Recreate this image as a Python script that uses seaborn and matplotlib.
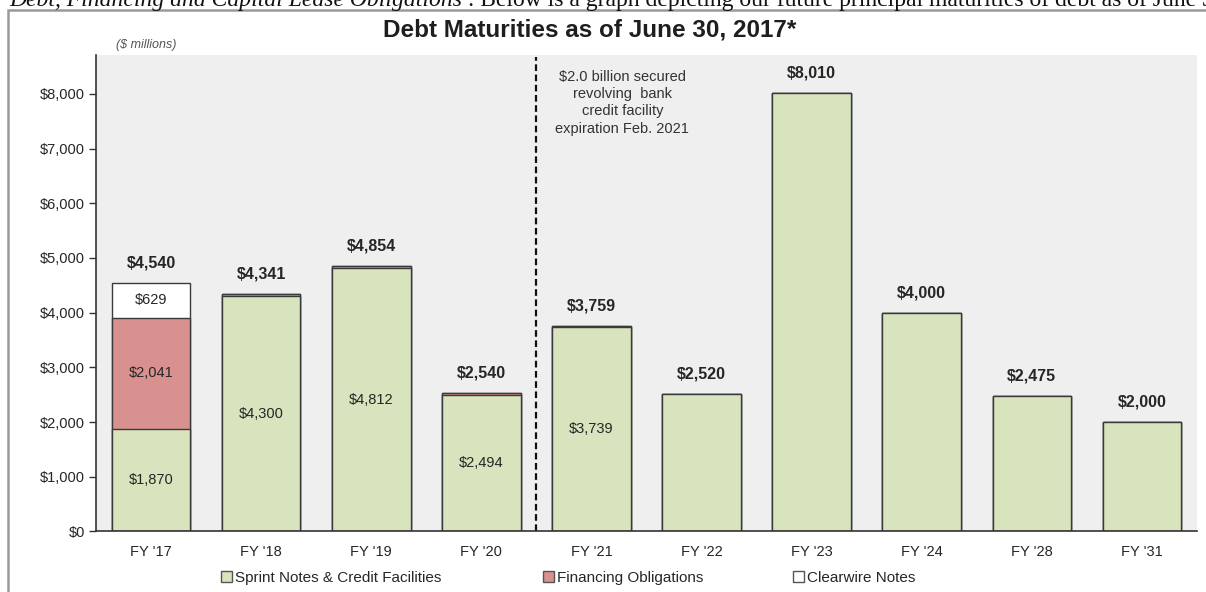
import matplotlib
matplotlib.use("Agg")
import matplotlib.pyplot as plt
import seaborn as sns
import pandas as pd
from matplotlib.patches import Patch, Rectangle

# ---------------- data ----------------
categories = ["FY '17", "FY '18", "FY '19", "FY '20", "FY '21",
              "FY '22", "FY '23", "FY '24", "FY '28", "FY '31"]
sprint_notes = [1870, 4300, 4812, 2494, 3739, 2520, 8010, 4000, 2475, 2000]
financing = [2041, 41, 42, 46, 20, 0, 0, 0, 0, 0]
clearwire = [629, 0, 0, 0, 0, 0, 0, 0, 0, 0]
totals = [4540, 4341, 4854, 2540, 3759, 2520, 8010, 4000, 2475, 2000]
y_ticks = [0, 1000, 2000, 3000, 4000, 5000, 6000, 7000, 8000]
series_names = ["Sprint Notes & Credit Facilities", "Financing Obligations", "Clearwire Notes"]
title = "Debt Maturities as of June 30, 2017*"
unit_note = "($ millions)"
facility_note = "$2.0 billion secured\nrevolving  bank\ncredit facility\nexpiration Feb. 2021"
header_italic = "Debt, Financing and Capital Lease Obligations"
header_rest = " : Below is a graph depicting our future principal maturities of debt as of June 30, 2017:"

# ---------------- style ----------------
sns.set_style("white")
plt.rcParams['font.family'] = ['Liberation Sans', 'DejaVu Sans']

GREEN = "#d7e4bd"
PINK = "#d9918f"
WHITE = "#ffffff"
EDGE = "#3a3a3a"
TEXT = "#262626"
series_colors = [GREEN, PINK, WHITE]

df = pd.DataFrame({"cat": categories, "sprint": sprint_notes,
                   "fin": financing, "cw": clearwire})
df["lvl2"] = df["sprint"] + df["fin"]
df["lvl3"] = df["lvl2"] + df["cw"]

fig = plt.figure(figsize=(12.06, 5.92), dpi=100)
ax = fig.add_axes([0.0796, 0.1022, 0.9129, 0.8049])
ax.set_facecolor("#efefef")

bw = 0.714
for col, c in [("lvl3", WHITE), ("lvl2", PINK), ("sprint", GREEN)]:
    sns.barplot(data=df, x="cat", y=col, color=c, saturation=1, width=bw,
                edgecolor=EDGE, linewidth=1.0, ax=ax, errorbar=None)

ax.set_xlim(-0.5, len(categories) - 0.5)
ax.set_ylim(0, 8710)
ax.set_xlabel("")
ax.set_ylabel("")
ax.set_yticks(y_ticks)
ax.set_yticklabels([f"${v:,}" for v in y_ticks])
for s in ["top", "right"]:
    ax.spines[s].set_visible(False)
for s in ["left", "bottom"]:
    ax.spines[s].set_color("#333333")
    ax.spines[s].set_linewidth(1.2)
ax.tick_params(axis="y", left=True, length=5, width=1, color="#333333",
               pad=3, labelsize=10.5, labelcolor=TEXT, direction="out")
ax.tick_params(axis="x", bottom=False, length=0, pad=10, labelsize=10.5,
               labelcolor=TEXT)

# totals
for i, t in enumerate(totals):
    ax.annotate(f"${t:,}", (i, t), xytext=(0, 14.4), textcoords="offset points",
                ha="center", va="center", fontsize=11.5, fontweight="bold", color=TEXT)

# segment labels
for i in range(len(categories)):
    if financing[i] > 0:
        ax.text(i, sprint_notes[i] / 2, f"${sprint_notes[i]:,}", ha="center", va="center",
                fontsize=10.5, color=TEXT)
    if financing[i] > 100:
        ax.text(i, sprint_notes[i] + financing[i] / 2, f"${financing[i]:,}", ha="center",
                va="center", fontsize=10.5, color=TEXT)
    if clearwire[i] > 0:
        ax.text(i, sprint_notes[i] + financing[i] + clearwire[i] / 2, f"${clearwire[i]:,}",
                ha="center", va="center", fontsize=10.5, color=TEXT)

# dashed divider and note
ax.axvline(3.5, ymin=0, ymax=0.995, color="#111111", lw=1.6, ls=(0, (3, 1.6)))
ax.text(4.28, 8440, facility_note, ha="center", va="top", fontsize=10.5,
        color="#333333", linespacing=1.3)

# title / unit note
fig.text(590 / 1206, 1 - 30 / 592, title, ha="center", va="center",
         fontsize=17.5, fontweight="bold", color="#1e1e1e")
fig.text(146 / 1206, 1 - 45 / 592, unit_note, ha="center", va="center",
         fontsize=9, style="italic", color="#555555")

# legend: one entry per series, each anchored where the reference shows it
legend_x = [221, 543, 793]
for name, c, lx in zip(series_names, series_colors, legend_x):
    fig.legend([Patch(facecolor=c, edgecolor="#555555")], [name], loc="center left",
               bbox_to_anchor=(lx / 1206, 1 - 578 / 592), frameon=False,
               handlelength=0.7, handleheight=0.7, handletextpad=0.2,
               fontsize=11, labelcolor=TEXT, borderaxespad=0, borderpad=0)

# chart frame (left + top border)
fig.add_artist(Rectangle((8 / 1206, -0.2), 1.5, 1.2 - 10 / 592, transform=fig.transFigure,
                         fill=False, edgecolor="#9a9a9a", lw=1.8))

# cut-off header sentence above the chart
t1 = fig.text(9 / 1206, 1 - 6 / 592, header_italic, family="Liberation Serif",
              style="italic", fontsize=17, va="baseline", ha="left", color="#111111")
fig.canvas.draw()
bb = t1.get_window_extent(renderer=fig.canvas.get_renderer())
fig.text(bb.x1 / fig.bbox.width, 1 - 6 / 592, header_rest, family="Liberation Serif",
         fontsize=17, va="baseline", ha="left", color="#111111")

fig.savefig("out.png", dpi=100)
